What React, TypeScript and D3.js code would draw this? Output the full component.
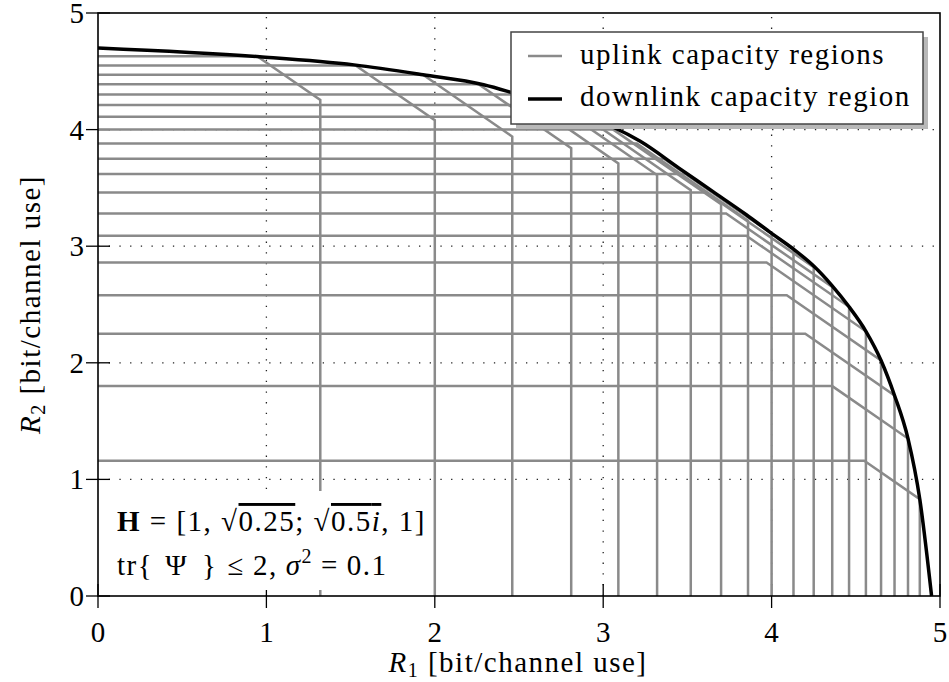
import React from "react";
import * as d3 from "d3";

// Uplink (MAC) capacity regions: R1 <= r1Max, R2 <= r2Max, R1 + R2 <= sumRate
const uplinkR1Max = [1.32, 2.0, 2.46, 2.81, 3.09, 3.32, 3.52, 3.7, 3.86, 4.0, 4.13, 4.25, 4.36, 4.46, 4.56, 4.65, 4.73, 4.81, 4.88];
const uplinkR2Max = [4.63, 4.55, 4.47, 4.39, 4.3, 4.21, 4.11, 4.0, 3.88, 3.75, 3.62, 3.46, 3.28, 3.09, 2.86, 2.58, 2.25, 1.8, 1.16];
const uplinkSumRate = [5.575, 6.08, 6.4, 6.65, 6.8, 6.93, 7.0, 7.06, 7.08, 7.11, 7.11, 7.07, 7.01, 6.94, 6.83, 6.67, 6.45, 6.16, 5.71];

// Downlink (BC) capacity region boundary
const downlinkR1 = [0, 0.96, 1.52, 1.93, 2.29, 2.5, 2.72, 2.89, 3.06, 3.22, 3.45, 3.65, 3.85, 4.0, 4.13, 4.25, 4.36, 4.46, 4.56, 4.65, 4.73, 4.81, 4.88, 4.95];
const downlinkR2 = [4.7, 4.625, 4.555, 4.47, 4.385, 4.3, 4.21, 4.115, 4.02, 3.9, 3.67, 3.47, 3.27, 3.11, 2.975, 2.83, 2.66, 2.48, 2.27, 2.02, 1.72, 1.35, 0.83, 0];

const xTicks = [0, 1, 2, 3, 4, 5];
const yTicks = [0, 1, 2, 3, 4, 5];
const gridValues = [1, 2, 3, 4];

const W = 949;
const H = 682;
const FONT = "'Liberation Serif', 'Times New Roman', serif";

export default function App() {
  const x = d3.scaleLinear().domain([0, 5]).range([98, 940]);
  const y = d3.scaleLinear().domain([0, 5]).range([596, 13]);

  const line = d3
    .line<[number, number]>()
    .x((d) => x(d[0]))
    .y((d) => y(d[1]));

  const smooth = d3
    .line<[number, number]>()
    .x((d) => x(d[0]))
    .y((d) => y(d[1]))
    .curve(d3.curveMonotoneX);

  const uplinkPaths = uplinkR1Max.map((a, i) => {
    const b = uplinkR2Max[i];
    const s = uplinkSumRate[i];
    const pts: [number, number][] = [
      [0, b],
      [s - b, b],
      [a, s - a],
      [a, 0],
    ];
    return line(pts) as string;
  });

  const downPts: [number, number][] = downlinkR1.map((v, i) => [v, downlinkR2[i]]);
  const downPath = smooth(downPts) as string;

  const [x0, x1] = x.range();
  const [y0, y1] = y.range();

  const gray = "#8a8a8a";
  const fs = 29;
  const ls = 1.5;

  return (
    <svg
      width={W}
      height={H}
      style={{ position: "absolute", left: 0, top: 0, background: "#fff" }}
      fontFamily={FONT}
    >
      <rect x={0} y={0} width={W} height={H} fill="#fff" />
      {/* grid */}
      <g stroke="#222" strokeWidth={1.3} strokeDasharray="1.3 9.4" fill="none">
        {gridValues.map((v) => (
          <line key={"gx" + v} x1={x(v)} x2={x(v)} y1={y0} y2={y1} />
        ))}
        {gridValues.map((v) => (
          <line key={"gy" + v} x1={x0} x2={x1} y1={y(v)} y2={y(v)} />
        ))}
      </g>
      {/* ticks */}
      <g stroke="#000" strokeWidth={1.3}>
        {xTicks.map((v) => (
          <line key={"tx" + v} x1={x(v)} x2={x(v)} y1={y0 - 12} y2={y0 + 12} />
        ))}
        {yTicks.map((v) => (
          <line key={"ty" + v} x1={x0 - 12} x2={x0 + 12} y1={y(v)} y2={y(v)} />
        ))}
      </g>
      {/* uplink regions */}
      <g stroke={gray} strokeWidth={2.5} fill="none" strokeLinejoin="miter">
        {uplinkPaths.map((p, i) => (
          <path key={"u" + i} d={p} />
        ))}
      </g>
      {/* downlink region */}
      <path d={downPath} stroke="#000" strokeWidth={3.5} fill="none" strokeLinejoin="round" />
      {/* annotation */}
      <rect x={101} y={491} width={328} height={99} fill="#fff" />
      <text x={117} y={531} fontSize={fs} fill="#000" letterSpacing={ls}>
        <tspan fontWeight="bold">H</tspan>
        <tspan> = [1, √</tspan>
        <tspan style={{ textDecoration: "overline" }}>0.25</tspan>
        <tspan>; √</tspan>
        <tspan style={{ textDecoration: "overline" }}>0.5</tspan>
        <tspan fontStyle="italic" style={{ textDecoration: "overline" }}>i</tspan>
        <tspan>, 1]</tspan>
      </text>
      <text x={117} y={575} fontSize={fs} fill="#000" letterSpacing={ls}>
        <tspan>tr{"{"}</tspan>
        <tspan dx={12}>Ψ</tspan>
        <tspan dx={14}>{"}"}</tspan>
        <tspan dx={10}>≤</tspan>
        <tspan dx={8}>2,</tspan>
        <tspan dx={8} fontStyle="italic">σ</tspan>
        <tspan fontSize={20} dy={-12}>2</tspan>
        <tspan dy={12} dx={8}>=</tspan>
        <tspan dx={8}>0.1</tspan>
      </text>
      {/* frame */}
      <rect x={x0} y={y1} width={x1 - x0} height={y0 - y1} fill="none" stroke="#000" strokeWidth={1.6} />
      {/* tick labels */}
      <g fontSize={fs} fill="#000">
        {xTicks.map((v) => (
          <text key={"lx" + v} x={x(v)} y={642} textAnchor="middle">
            {v}
          </text>
        ))}
        {yTicks.map((v) => (
          <text key={"ly" + v} x={84} y={y(v) + 10} textAnchor="end">
            {v}
          </text>
        ))}
      </g>
      {/* axis labels */}
      <text x={518} y={672} fontSize={fs} textAnchor="middle" fill="#000" letterSpacing={ls}>
        <tspan fontStyle="italic">R</tspan>
        <tspan fontSize={20} dy={5}>1</tspan>
        <tspan dy={-5}> [bit/channel use]</tspan>
      </text>
      <text
        transform={`translate(40, ${(y0 + y1) / 2}) rotate(-90)`}
        fontSize={fs}
        textAnchor="middle"
        fill="#000"
        letterSpacing={ls}
      >
        <tspan fontStyle="italic">R</tspan>
        <tspan fontSize={20} dy={5}>2</tspan>
        <tspan dy={-5}> [bit/channel use]</tspan>
      </text>
      {/* legend */}
      <rect x={516} y={37} width={412} height={92} fill="#b8b8b8" />
      <rect x={511} y={32} width={412} height={92} fill="#fff" stroke="#444" strokeWidth={1.5} />
      <line x1={528} x2={562} y1={56} y2={56} stroke={gray} strokeWidth={2.5} />
      <line x1={528} x2={562} y1={99} y2={99} stroke="#000" strokeWidth={3.5} />
      <text x={580} y={64} fontSize={fs} fill="#000" letterSpacing={ls}>uplink capacity regions</text>
      <text x={580} y={106} fontSize={fs} fill="#000" letterSpacing={ls}>downlink capacity region</text>
    </svg>
  );
}
